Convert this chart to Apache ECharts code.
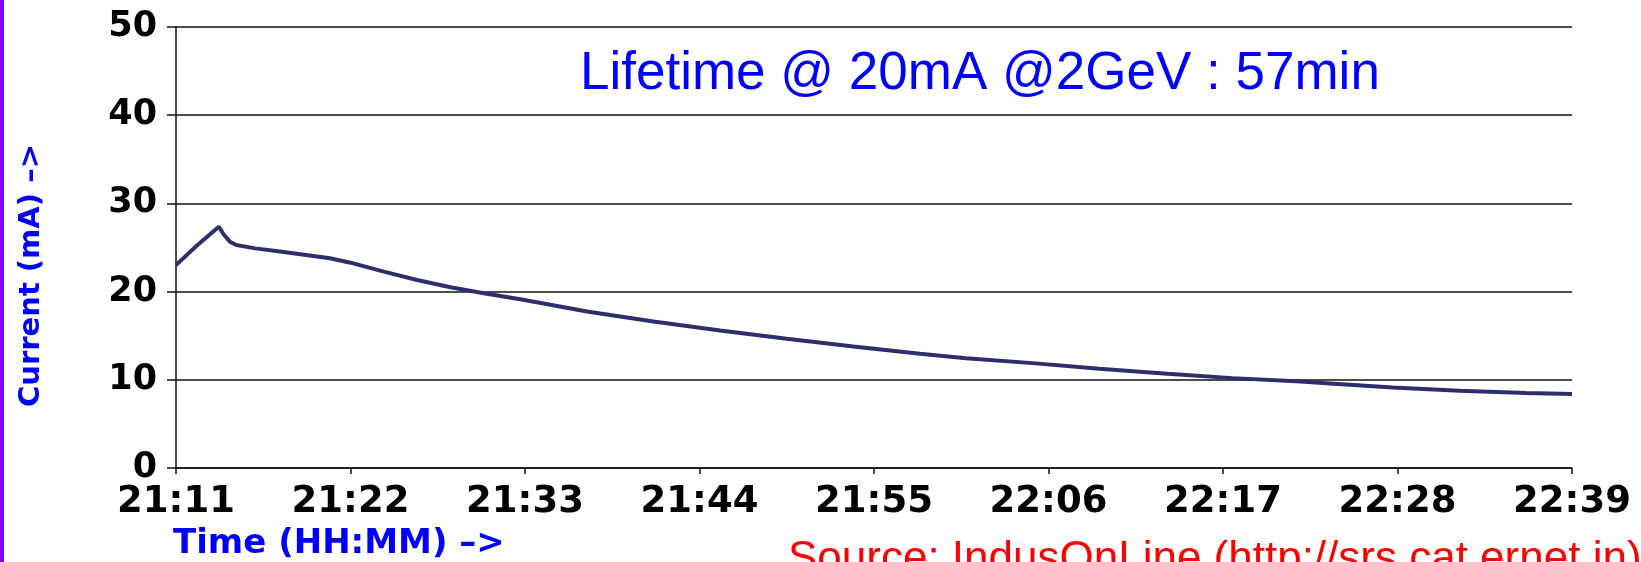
<!DOCTYPE html>
<html>
<head>
<meta charset="utf-8">
<script src="https://cdn.jsdelivr.net/npm/echarts@6/dist/echarts.min.js"></script>
<style>
html,body{margin:0;padding:0;background:#fff;}
#chart{width:1641px;height:562px;}
</style>
</head>
<body>
<div id="chart"></div>
<script>
// minutes elapsed since 21:11
const minutes = [0, 1.3, 2.7, 3.0, 3.4, 3.8, 5.0, 6.8, 9.7, 11.0, 13.1, 15.2, 17.3, 19.4, 21.7, 23.6, 25.9, 30.1, 34.3, 38.5, 42.7, 46.9, 49.8, 54.0, 58.2, 62.5, 66.6, 70.9, 72.5, 76.7, 80.9, 85.1, 88];
const currentMA = [23.0, 25.2, 27.35, 26.5, 25.66, 25.28, 24.9, 24.5, 23.78, 23.28, 22.26, 21.32, 20.5, 19.82, 19.14, 18.5, 17.74, 16.61, 15.59, 14.65, 13.78, 12.95, 12.45, 11.89, 11.24, 10.68, 10.19, 9.8, 9.62, 9.13, 8.75, 8.49, 8.38];
const xTickLabels = ['21:11', '21:22', '21:33', '21:44', '21:55', '22:06', '22:17', '22:28', '22:39'];
const yTicks = [0, 10, 20, 30, 40, 50];
const titleText = 'Lifetime @ 20mA @2GeV : 57min';
const sourceText = 'Source: IndusOnLine (http://srs.cat.ernet.in)';
const xName = 'Time (HH:MM) \u2013>';
const yName = 'Current (mA) \u2013>';

const chart = echarts.init(document.getElementById('chart'), null, {renderer: 'canvas'});
const seriesData = minutes.map((m, i) => [m, currentMA[i]]);

chart.setOption({
  animation: false,
  backgroundColor: '#fff',
  title: [
    {text: titleText, left: 580, top: 48, padding: 0,
     textStyle: {fontFamily: 'Liberation Sans', fontWeight: 'normal', fontSize: 53, color: '#0000ff'}},
    {text: sourceText, left: 788, top: 538, padding: 0,
     textStyle: {fontFamily: 'Liberation Sans', fontWeight: 'normal', fontSize: 44, color: '#ff0000'}}
  ],
  graphic: [
    {type: 'rect', left: 0, top: 0, shape: {width: 4, height: 562}, style: {fill: '#8000ff'}}
  ],
  grid: {left: 176, right: 69, top: 27, bottom: 94, containLabel: false, outerBoundsMode: 'none'},
  xAxis: {
    type: 'value', min: 0, max: 88, interval: 11,
    name: xName, nameLocation: 'start', nameGap: 3, nameMoveOverlap: false,
    nameTextStyle: {fontFamily: 'DejaVu Sans', fontWeight: 'bold', fontSize: 34, color: '#0000ff',
                    align: 'left', verticalAlign: 'top', padding: [59, 0, 0, 0]},
    axisLine: {show: true, lineStyle: {color: '#111', width: 1.5}},
    axisTick: {show: true, inside: false, length: 6, lineStyle: {color: '#111', width: 1.5}},
    splitLine: {show: false},
    axisLabel: {margin: 16, formatter: v => xTickLabels[Math.round(v / 11)],
                fontFamily: 'DejaVu Sans', fontWeight: 'bold', fontSize: 37, color: '#000'}
  },
  yAxis: {
    type: 'value', min: yTicks[0], max: yTicks[yTicks.length - 1], interval: 10,
    name: yName, nameLocation: 'middle', nameGap: 130, nameMoveOverlap: false,
    nameTextStyle: {fontFamily: 'DejaVu Sans', fontWeight: 'bold', fontSize: 29, color: '#0000ff',
                    padding: [0, 56, 0, 0]},
    axisLine: {show: true, lineStyle: {color: '#111', width: 1.5}},
    axisTick: {show: true, length: 9, lineStyle: {color: '#111', width: 1.5}},
    splitLine: {show: true, lineStyle: {color: '#111', width: 1.5}},
    axisLabel: {margin: 19, fontFamily: 'DejaVu Sans', fontWeight: 'bold', fontSize: 35, color: '#000'}
  },
  series: [{
    type: 'line', data: seriesData, showSymbol: false, smooth: false,
    lineStyle: {color: '#2e2e6c', width: 4}
  }]
});
</script>
</body>
</html>
